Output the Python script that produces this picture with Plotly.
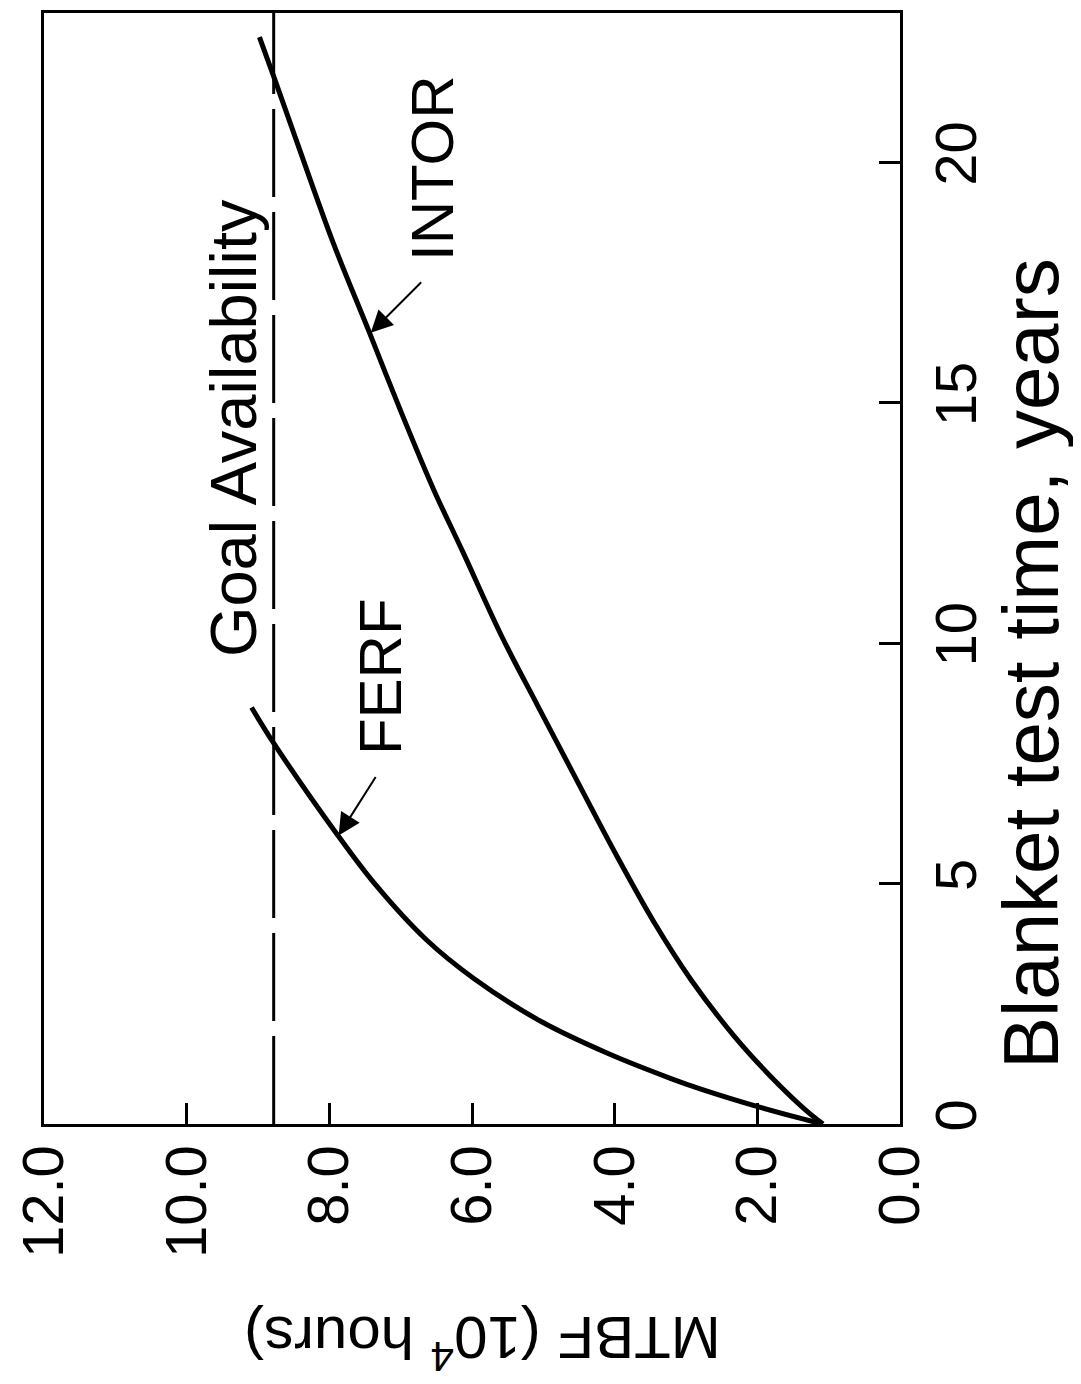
import plotly.graph_objects as go

# ---- data ----
ferf_years = [0.0, 0.10, 0.35, 0.72, 0.95, 1.47, 2.13, 3.02, 3.83, 4.97, 6.00, 7.92, 8.66]
ferf_mtbf = [1.08, 1.35, 1.97, 2.78, 3.22, 4.10, 5.03, 5.97, 6.64, 7.35, 7.88, 8.78, 9.09]

intor_years = [0.0, 0.30, 1.00, 1.80, 3.00, 4.20, 5.60, 7.40, 8.70, 10.10, 11.90, 13.20,
               14.90, 16.50, 18.30, 20.40, 21.70, 22.60]
intor_mtbf = [1.08, 1.33, 1.82, 2.31, 2.93, 3.45, 3.98, 4.62, 5.08, 5.57, 6.13, 6.54,
              7.02, 7.45, 7.94, 8.45, 8.76, 8.98]

goal_mtbf = 8.78
year_max = 23.1

mtbf_ticks = [0, 2, 4, 6, 8, 10, 12]
mtbf_ticktext = ["0.0", "2.0", "4.0", "6.0", "8.0", "10.0", "12.0"]
year_ticks = [0, 5, 10, 15, 20]
year_ticktext = ["0", "5", "10", "15", "20"]

# ---- layout geometry (page offset of 8px body margin accounted for) ----
OFF = 8
W, H = 1081 - OFF, 1384 - OFF
PL, PT = 36, 10            # plot-area top-left in page pixels
PW, PH = 864, 1114
ML, MT = PL - OFF, PT - OFF
MR = W - ML - PW
MB = H - MT - PH
FONT = "Liberation Sans, Arial, Helvetica, sans-serif"


def paper(px, py):
    return (px - PL) / PW, (PT + PH - py) / PH


fig = go.Figure()

fig.add_trace(go.Scatter(x=[goal_mtbf, goal_mtbf], y=[0, year_max], mode="lines",
                         line=dict(color="black", width=3, dash="88px,15px"),
                         showlegend=False, hoverinfo="skip"))
fig.add_trace(go.Scatter(x=ferf_mtbf, y=ferf_years, mode="lines", name="FERF",
                         line=dict(color="black", width=5, shape="spline", smoothing=1.0),
                         showlegend=False))
fig.add_trace(go.Scatter(x=intor_mtbf, y=intor_years, mode="lines", name="INTOR",
                         line=dict(color="black", width=5, shape="spline", smoothing=1.0),
                         showlegend=False))

annotations = []


def text_ann(txt, px, py, size, angle=-90):
    x, y = paper(px, py)
    annotations.append(dict(text=txt, x=x, y=y, xref="paper", yref="paper",
                            xanchor="center", yanchor="middle", showarrow=False,
                            textangle=angle, font=dict(family=FONT, size=size, color="black")))


text_ann("Goal Availability", 228, 426, 65)
text_ann("FERF", 375, 675, 60)
text_ann("INTOR", 428, 165, 60)
text_ann("Blanket test time, years", 1032, 662, 78)
text_ann("MTBF (10<sup>4</sup> hours)", 478, 1342, 60, angle=180)

# arrows pointing onto the curves
annotations.append(dict(x=7.87, y=6.0, xref="x", yref="y", text="", showarrow=True,
                        ax=38, ay=-60, arrowhead=2, arrowsize=2.2, arrowwidth=2,
                        arrowcolor="black"))
annotations.append(dict(x=7.42, y=16.45, xref="x", yref="y", text="", showarrow=True,
                        ax=52, ay=-52, arrowhead=2, arrowsize=2.2, arrowwidth=2,
                        arrowcolor="black"))

fig.update_layout(
    width=W, height=H,
    margin=dict(l=ML, r=MR, t=MT, b=MB, pad=0),
    paper_bgcolor="white", plot_bgcolor="white",
    showlegend=False,
    annotations=annotations,
    xaxis=dict(range=[12, 0], tickvals=mtbf_ticks, ticktext=mtbf_ticktext,
               tickangle=-90, ticks="inside", ticklen=21, tickwidth=2.5, tickcolor="black",
               showline=True, linewidth=3, linecolor="black", mirror=True,
               showgrid=False, zeroline=False, ticklabelstandoff=-5,
               ticklabeloverflow="allow",
               tickfont=dict(family=FONT, size=58, color="black")),
    yaxis=dict(range=[0, year_max], tickvals=year_ticks, ticktext=year_ticktext,
               side="right", tickangle=-90, ticks="inside", ticklen=21, tickwidth=2.5,
               tickcolor="black", showline=True, linewidth=3, linecolor="black",
               mirror=True, showgrid=False, zeroline=False, ticklabelstandoff=3,
               ticklabeloverflow="allow",
               tickfont=dict(family=FONT, size=58, color="black")),
)

fig.write_html("out.html")
